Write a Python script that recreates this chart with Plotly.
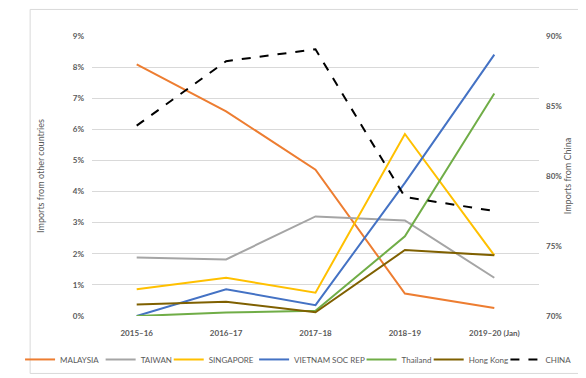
import plotly.graph_objects as go

categories = ["2015–16", "2016–17", "2017–18", "2018–19", "2019–20 (Jan)"]
malaysia = [8.09, 6.58, 4.70, 0.72, 0.26]
taiwan = [1.88, 1.82, 3.20, 3.07, 1.23]
singapore = [0.86, 1.23, 0.75, 5.85, 1.95]
vietnam = [0.0, 0.86, 0.35, 4.28, 8.40]
thailand = [0.0, 0.11, 0.17, 2.56, 7.15]
hongkong = [0.37, 0.46, 0.12, 2.12, 1.95]
china = [83.6, 88.2, 89.05, 78.5, 77.5]

series = [
    ("MALAYSIA", malaysia, "#ED7D31"),
    ("TAIWAN", taiwan, "#A5A5A5"),
    ("SINGAPORE", singapore, "#FFC000"),
    ("VIETNAM SOC REP", vietnam, "#4472C4"),
    ("Thailand", thailand, "#70AD47"),
    ("Hong Kong", hongkong, "#7F6000"),
]
# pixel where each legend key line starts
legend_px = [10, 94, 165, 254, 366, 436, 516]

L, R, T, B = 65, 55, 28, 60
W, H = 586, 378
pw, ph = W - L - R, H - T - B

FONT = "Lato, Open Sans, sans-serif"
GREY = "#595959"

fig = go.Figure()
legend_ids = ["legend"] + ["legend%d" % i for i in range(2, 8)]
for i, (name, vals, col) in enumerate(series):
    fig.add_trace(go.Scatter(x=categories, y=[v / 100 for v in vals], name=name,
                             mode="lines", line=dict(color=col, width=2),
                             legend=legend_ids[i]))
fig.add_trace(go.Scatter(x=categories, y=[v / 100 for v in china], name="CHINA",
                         mode="lines", yaxis="y2", legend=legend_ids[6],
                         line=dict(color="black", width=2, dash="dash")))

fig.add_shape(type="rect", xref="paper", yref="paper",
              x0=(0.5 - L) / pw, x1=(W - 0.5 - L) / pw,
              y0=-(B - 0.5) / ph, y1=(T - 0.5) / ph + 1,
              line=dict(color="#D9D9D9", width=1), layer="below")

legend_layout = {}
for lid, px in zip(legend_ids, legend_px):
    legend_layout[lid] = dict(x=(px - 20 - L) / pw, xanchor="left",
                              y=(ph - (363 - T)) / ph, yanchor="middle",
                              orientation="h", itemwidth=30,
                              bgcolor="rgba(0,0,0,0)", borderwidth=0,
                              font=dict(family=FONT, size=8, color=GREY))

fig.update_layout(
    width=W, height=H,
    margin=dict(l=L, r=R, t=T, b=B),
    paper_bgcolor="white", plot_bgcolor="white",
    font=dict(family=FONT, size=9, color=GREY),
    showlegend=True,
    xaxis=dict(showgrid=False, showline=False, ticks="",
               tickfont=dict(size=8, color=GREY, family=FONT, weight="bold"),
               range=[-0.5, 4.5], ticklabelstandoff=11),
    yaxis=dict(range=[0, 0.09], dtick=0.01, tickformat=".0%", showgrid=True,
               gridcolor="#D9D9D9", gridwidth=1, zeroline=False, showline=False,
               ticks="", ticklabelstandoff=7,
               tickfont=dict(size=8, color=GREY, family=FONT, weight="bold"),
               title=dict(text="Imports from other countries",
                          font=dict(size=9, color=GREY, family=FONT), standoff=26)),
    yaxis2=dict(range=[0.70, 0.90], dtick=0.05, tickformat=".0%", overlaying="y",
                side="right", showgrid=False, zeroline=False, showline=False,
                ticks="", ticklabelstandoff=6,
                tickfont=dict(size=8, color=GREY, family=FONT, weight="bold"),
                title=dict(text="Imports from China",
                           font=dict(size=9, color=GREY, family=FONT), standoff=0)),
    **legend_layout,
)
fig.write_html("out.html")
